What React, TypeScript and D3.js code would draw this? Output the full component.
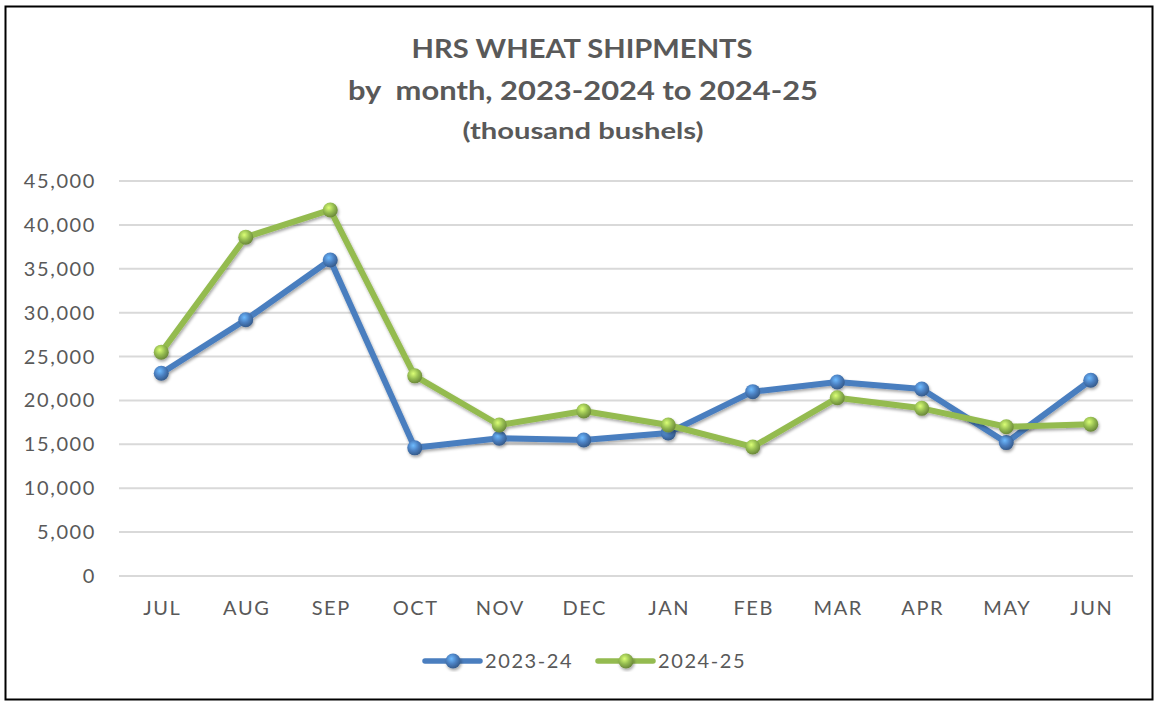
import React, { useEffect, useRef } from 'react';
import * as d3 from 'd3';

const months = ['JUL', 'AUG', 'SEP', 'OCT', 'NOV', 'DEC', 'JAN', 'FEB', 'MAR', 'APR', 'MAY', 'JUN'];
const shipments2324 = [23100, 29200, 36000, 14600, 15700, 15500, 16300, 21000, 22100, 21300, 15200, 22300];
const shipments2425 = [25500, 38600, 41700, 22800, 17200, 18800, 17200, 14700, 20300, 19100, 17000, 17300];
const yTicks = [0, 5000, 10000, 15000, 20000, 25000, 30000, 35000, 40000, 45000];
const seriesNames = ['2023-24', '2024-25'];
const seriesColors = ['#4a7ebf', '#94bb50'];

const W = 1155;
const H = 701;

const App: React.FC = () => {
    const ref = useRef<SVGSVGElement>(null);

    useEffect(() => {
        const svg = d3.select(ref.current);
        svg.selectAll('*').remove();

        const font = "'Lato', 'DejaVu Sans', sans-serif";
        const grey = '#595959';

        // background + border
        svg.append('rect').attr('width', W).attr('height', H).attr('fill', '#fff');
        svg.append('rect')
            .attr('x', 5.5).attr('y', 6.5)
            .attr('width', 1147).attr('height', 693)
            .attr('fill', 'none').attr('stroke', '#000').attr('stroke-width', 2);

        const defs = svg.append('defs');
        const f = defs.append('filter').attr('id', 'shadow').attr('x', '-20%').attr('y', '-20%').attr('width', '140%').attr('height', '140%');
        f.append('feDropShadow').attr('dx', 1).attr('dy', 2).attr('stdDeviation', 1.6).attr('flood-color', '#000').attr('flood-opacity', 0.35);

        seriesColors.forEach((c, i) => {
            const g = defs.append('radialGradient').attr('id', `ball${i}`)
                .attr('cx', '40%').attr('cy', '35%').attr('r', '65%');
            g.append('stop').attr('offset', '0%').attr('stop-color', d3.color(c)!.brighter(1.1).formatHex());
            g.append('stop').attr('offset', '55%').attr('stop-color', c);
            g.append('stop').attr('offset', '100%').attr('stop-color', d3.color(c)!.darker(0.9).formatHex());
        });

        // title
        const title = svg.append('g').attr('font-family', font).attr('font-weight', 'bold').attr('fill', grey).attr('text-anchor', 'middle');
        title.append('text').attr('x', 582).attr('y', 58).attr('font-size', 27)
            .attr('textLength', 341).attr('lengthAdjust', 'spacingAndGlyphs').text('HRS WHEAT SHIPMENTS');
        title.append('text').attr('x', 583).attr('y', 100).attr('font-size', 27).attr('xml:space', 'preserve')
            .attr('textLength', 470).attr('lengthAdjust', 'spacingAndGlyphs').text('by  month, 2023-2024 to 2024-25');
        title.append('text').attr('x', 583).attr('y', 139).attr('font-size', 23)
            .attr('textLength', 241).attr('lengthAdjust', 'spacingAndGlyphs').text('(thousand bushels)');

        const x = d3.scaleBand<string>().domain(months).range([119, 1133]);
        const y = d3.scaleLinear().domain([0, 45000]).range([576, 181]);
        const cx = (m: string) => (x(m) ?? 0) + x.bandwidth() / 2;

        // gridlines
        svg.append('g').selectAll('line').data(yTicks).enter().append('line')
            .attr('x1', 119).attr('x2', 1133)
            .attr('y1', d => y(d)).attr('y2', d => y(d))
            .attr('stroke', '#d9d9d9').attr('stroke-width', 2);

        // y labels
        svg.append('g').selectAll('text').data(yTicks).enter().append('text')
            .attr('x', 96).attr('y', d => y(d)).attr('dy', '0.35em')
            .attr('text-anchor', 'end').attr('font-family', font).attr('font-size', 20)
            .attr('letter-spacing', 1.6).attr('fill', grey)
            .text(d => d3.format(',')(d));

        // x labels
        svg.append('g').selectAll('text').data(months).enter().append('text')
            .attr('x', d => cx(d) + 1).attr('y', 608).attr('dy', '0.35em')
            .attr('text-anchor', 'middle').attr('font-family', font).attr('font-size', 20)
            .attr('letter-spacing', 1.6).attr('fill', grey)
            .text(d => d);

        const line = d3.line<number>().x((_, i) => cx(months[i])).y(d => y(d));
        const series = [shipments2324, shipments2425];

        series.forEach((vals, i) => {
            const g = svg.append('g').attr('filter', 'url(#shadow)');
            g.append('path').datum(vals).attr('d', line)
                .attr('fill', 'none').attr('stroke', seriesColors[i]).attr('stroke-width', 6)
                .attr('stroke-linejoin', 'round');
            g.selectAll('circle').data(vals).enter().append('circle')
                .attr('cx', (_, j) => cx(months[j])).attr('cy', d => y(d)).attr('r', 7.5)
                .attr('fill', `url(#ball${i})`);
        });

        // legend
        const legendX = [425, 598];
        seriesNames.forEach((name, i) => {
            const g = svg.append('g').attr('transform', `translate(${legendX[i]},661)`);
            g.append('line').attr('x1', 0).attr('x2', 55).attr('y1', 0).attr('y2', 0)
                .attr('stroke', seriesColors[i]).attr('stroke-width', 5.5).attr('stroke-linecap', 'round');
            g.append('circle').attr('cx', 28).attr('cy', 0).attr('r', 7.5).attr('fill', `url(#ball${i})`)
                .attr('filter', 'url(#shadow)');
            g.append('text').attr('x', 60).attr('y', 0).attr('dy', '0.35em')
                .attr('font-family', font).attr('font-size', 20).attr('letter-spacing', 1.6)
                .attr('fill', grey).text(name);
        });
    }, []);

    return <svg ref={ref} width={W} height={H} style={{ position: 'absolute', left: 0, top: 0, display: 'block' }}></svg>;
};

export default App;
